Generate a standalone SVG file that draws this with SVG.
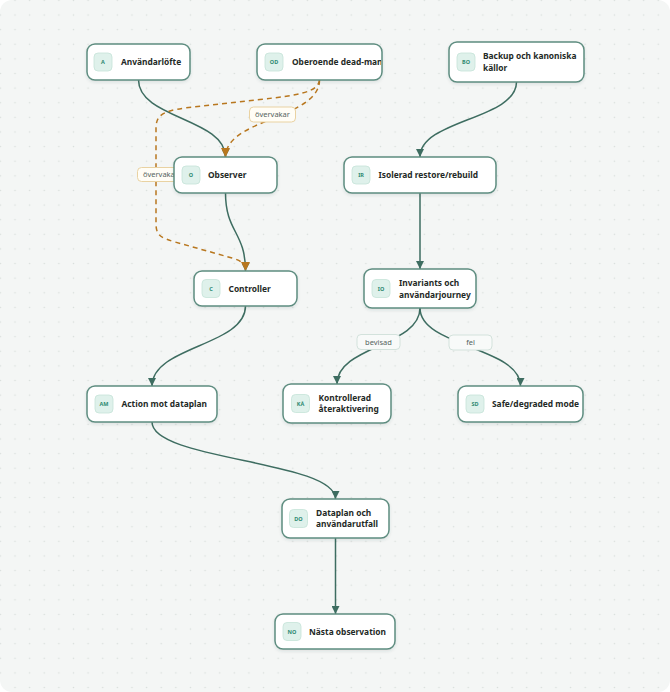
<svg xmlns="http://www.w3.org/2000/svg" width="670" height="692" viewBox="0 0 670 692">
<defs>
<pattern id="dots" patternUnits="userSpaceOnUse" x="7.7" y="7.7" width="14.62" height="14.62">
<circle cx="7.31" cy="7.31" r="0.8" fill="#d8dedb"/>
</pattern>
<marker id="arrS" viewBox="0 0 10 10" refX="10" refY="5" markerWidth="8" markerHeight="8" markerUnits="userSpaceOnUse" orient="auto">
<path d="M0,0 L10,5 L0,10 z" fill="#3e6d61"/>
</marker>
<marker id="arrD" viewBox="0 0 10 10" refX="10" refY="5" markerWidth="9" markerHeight="9" markerUnits="userSpaceOnUse" orient="auto">
<path d="M0,0 L10,5 L0,10 z" fill="#b8771f"/>
</marker>
<filter id="sh" x="-10%" y="-20%" width="120%" height="150%">
<feDropShadow dx="0" dy="1.5" stdDeviation="1.5" flood-color="#2d4a42" flood-opacity="0.12"/>
</filter>
<clipPath id="clipOD"><rect x="257" y="44" width="124" height="36" rx="8"/></clipPath>
</defs>
<style>
.card{fill:#ffffff;stroke:#5e8d80;stroke-width:1.5;filter:url(#sh)}
.badge{fill:#dff1eb;stroke:#c5e3d8;stroke-width:0.8}
.bt{font-family:"Noto Sans","DejaVu Sans",sans-serif;font-size:5.5px;font-weight:700;fill:#2f8a72;text-anchor:middle}
.t{font-family:"Noto Sans","DejaVu Sans",sans-serif;font-size:8.4px;font-weight:700;fill:#1f2a27}
.e{fill:none;stroke:#3e6d61;stroke-width:1.5}
.d{fill:none;stroke:#b8771f;stroke-width:1.5;stroke-dasharray:5 4}
.lbD{fill:#fffdf6;stroke:#e9d2a2;stroke-width:1}
.lbS{fill:#f8faf9;stroke:#d3e2dc;stroke-width:1}
.lt{font-family:"Noto Sans","DejaVu Sans",sans-serif;font-size:7.5px;fill:#56645f;text-anchor:middle}
</style>
<rect x="0" y="0" width="670" height="692" fill="#ffffff"/>
<rect x="0" y="0" width="670" height="692" rx="12" fill="#f4f6f5"/>
<rect x="0" y="0" width="670" height="692" rx="12" fill="url(#dots)"/>

<g id="connectors">
<path class="e" d="M138.5,80 C138.5,118.5 225.5,118.5 225.5,157" marker-end="url(#arrS)"/>
<path class="e" d="M225.5,193 C225.5,232 245.5,232 245.5,271" marker-end="url(#arrS)"/>
<path class="e" d="M516.5,82 C516.5,119.5 420,119.5 420,157" marker-end="url(#arrS)"/>
<path class="e" d="M420,193 L420,269" marker-end="url(#arrS)"/>
<path class="e" d="M245.5,306 C245.5,346 152,346 152,386" marker-end="url(#arrS)"/>
<path class="e" d="M420,308 C420,346 337,346 337,384" marker-end="url(#arrS)"/>
<path class="e" d="M420,308 C420,347 520.5,347 520.5,386" marker-end="url(#arrS)"/>
<path class="e" d="M152,422 C152,460.5 335.5,460.5 335.5,499" marker-end="url(#arrS)"/>
<path class="e" d="M335.5,538 L335.5,614" marker-end="url(#arrS)"/>
<path class="d" d="M319.5,80 C319.5,118.5 225.5,118.5 225.5,157" marker-end="url(#arrD)"/>
<path class="d" d="M319.5,80 C318,92 300,95 260,99.5 L185,108 C162,111 156,116 156,128 L156,224 C156,236 162,238 175,242 L232,258 C242,261 245.5,264 245.5,271" marker-end="url(#arrD)"/>
<g id="edge-labels">
<rect class="lbD" x="249.5" y="107" width="46" height="15" rx="4"/>
<text class="lt" x="272.5" y="117.2">övervakar</text>
<rect class="lbD" x="137.5" y="167.5" width="46" height="14" rx="4"/>
<text class="lt" x="160.5" y="177.2">övervakar</text>
<rect class="lbS" x="357" y="334.5" width="43" height="15" rx="4"/>
<text class="lt" x="378.5" y="344.7">bevisad</text>
<rect class="lbS" x="449" y="335" width="43" height="15" rx="4"/>
<text class="lt" x="470.5" y="345.2">fel</text>
</g>
</g>

<g id="node-A">
<rect class="card" x="87" y="44" width="103" height="36" rx="8"/>
<rect class="badge" x="94" y="53" width="18" height="18" rx="4"/>
<text class="bt" x="103" y="64">A</text>
<text class="t" x="121" y="65">Användarlöfte</text>
</g>
<g id="node-OD">
<rect class="card" x="257" y="44" width="125" height="36" rx="8"/>
<rect class="badge" x="265" y="53" width="18" height="18" rx="4"/>
<text class="bt" x="274" y="64">OD</text>
<text class="t" x="292" y="65" clip-path="url(#clipOD)">Oberoende dead-man</text>
</g>
<g id="node-BO">
<rect class="card" x="449" y="42" width="135" height="40" rx="8"/>
<rect class="badge" x="457" y="53" width="18" height="18" rx="4"/>
<text class="bt" x="466" y="64">BO</text>
<text class="t" x="483" y="59.3">Backup och kanoniska</text>
<text class="t" x="483" y="70.5">källor</text>
</g>
<g id="node-O">
<rect class="card" x="174" y="157" width="103" height="36" rx="8"/>
<rect class="badge" x="182" y="166" width="18" height="18" rx="4"/>
<text class="bt" x="191" y="177">O</text>
<text class="t" x="208" y="178">Observer</text>
</g>
<g id="node-IR">
<rect class="card" x="344" y="157" width="152" height="36" rx="8"/>
<rect class="badge" x="352" y="166" width="18" height="18" rx="4"/>
<text class="bt" x="361" y="177">IR</text>
<text class="t" x="378.5" y="178">Isolerad restore/rebuild</text>
</g>
<g id="node-C">
<rect class="card" x="194" y="271" width="103" height="35" rx="8"/>
<rect class="badge" x="202" y="279.5" width="18" height="18" rx="4"/>
<text class="bt" x="211" y="290.5">C</text>
<text class="t" x="228.5" y="291.5">Controller</text>
</g>
<g id="node-IO">
<rect class="card" x="364" y="269" width="112" height="39" rx="8"/>
<rect class="badge" x="372" y="279.5" width="18" height="18" rx="4"/>
<text class="bt" x="381" y="290.5">IO</text>
<text class="t" x="399" y="286.3">Invariants och</text>
<text class="t" x="399" y="297.5">användarjourney</text>
</g>
<g id="node-AM">
<rect class="card" x="87" y="386" width="130" height="36" rx="8"/>
<rect class="badge" x="95" y="395" width="18" height="18" rx="4"/>
<text class="bt" x="104" y="406">AM</text>
<text class="t" x="121.5" y="407">Action mot dataplan</text>
</g>
<g id="node-KA">
<rect class="card" x="283" y="384" width="108" height="39" rx="8"/>
<rect class="badge" x="291.5" y="394.5" width="18" height="18" rx="4"/>
<text class="bt" x="300.5" y="405.5">KÅ</text>
<text class="t" x="318.5" y="401.1">Kontrollerad</text>
<text class="t" x="318.5" y="412.3">återaktivering</text>
</g>
<g id="node-SD">
<rect class="card" x="458" y="386" width="125" height="36" rx="8"/>
<rect class="badge" x="466" y="395" width="18" height="18" rx="4"/>
<text class="bt" x="475" y="406">SD</text>
<text class="t" x="492" y="407">Safe/degraded mode</text>
</g>
<g id="node-DO">
<rect class="card" x="282" y="499" width="107" height="39" rx="8"/>
<rect class="badge" x="289.5" y="509.5" width="18" height="18" rx="4"/>
<text class="bt" x="298.5" y="520.5">DO</text>
<text class="t" x="316" y="516.1">Dataplan och</text>
<text class="t" x="316" y="527.3">användarutfall</text>
</g>
<g id="node-NO">
<rect class="card" x="275" y="614" width="120" height="35" rx="8"/>
<rect class="badge" x="283" y="622.5" width="18" height="18" rx="4"/>
<text class="bt" x="292" y="633.5">NO</text>
<text class="t" x="309" y="634.5">Nästa observation</text>
</g>
</svg>
